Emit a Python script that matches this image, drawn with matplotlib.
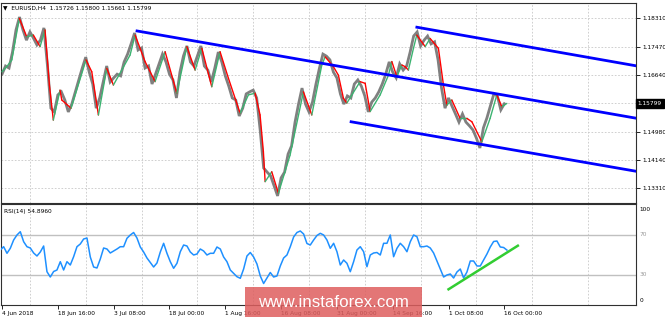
import matplotlib
matplotlib.use('Agg')
import matplotlib.pyplot as plt
import matplotlib.transforms as mtransforms
from matplotlib.patches import Rectangle
import numpy as np

# EURUSD H4 closes, one value every 4 bars
close = [1.1667, 1.1691, 1.1685, 1.1732, 1.1797, 1.1835, 1.1797, 1.1767, 1.1791, 1.1773,
         1.1753, 1.1767, 1.1803, 1.1694, 1.1567, 1.1556, 1.1606, 1.1615, 1.1591, 1.1556,
         1.1579, 1.1615, 1.1650, 1.1685, 1.1717, 1.1673, 1.1638, 1.1567, 1.1597, 1.1644,
         1.1691, 1.1644, 1.1656, 1.1667, 1.1662, 1.1703, 1.1726, 1.1756, 1.1788, 1.1738,
         1.1744, 1.1685, 1.1691, 1.1638, 1.1667, 1.1697, 1.1726, 1.1703, 1.1667, 1.1650,
         1.1597, 1.1673, 1.1720, 1.1750, 1.1703, 1.1691, 1.1720, 1.1750, 1.1691, 1.1679,
         1.1644, 1.1685, 1.1732, 1.1703, 1.1662, 1.1632, 1.1597, 1.1591, 1.1544, 1.1567,
         1.1609, 1.1615, 1.1620, 1.1597, 1.1503, 1.1391, 1.1379, 1.1368, 1.1338, 1.1309,
         1.1362, 1.1379, 1.1432, 1.1456, 1.1526, 1.1579, 1.1626, 1.1579, 1.1556, 1.1585,
         1.1638, 1.1685, 1.1726, 1.1720, 1.1709, 1.1673, 1.1656, 1.1609, 1.1579, 1.1603,
         1.1597, 1.1638, 1.1650, 1.1632, 1.1603, 1.1556, 1.1585, 1.1597, 1.1615, 1.1638,
         1.1667, 1.1703, 1.1673, 1.1656, 1.1697, 1.1679, 1.1691, 1.1732, 1.1779, 1.1791,
         1.1750, 1.1767, 1.1779, 1.1756, 1.1762, 1.1709, 1.1626, 1.1567, 1.1597, 1.1573,
         1.1550, 1.1526, 1.1550, 1.1526, 1.1515, 1.1503, 1.1479, 1.1450, 1.1509, 1.1538,
         1.1573, 1.1609, 1.1603, 1.1562, 1.1580]
bars_per_sample = 4

# slope-coloured moving average, turning points
ma_bars = [0, 5.4, 11.2, 14.9, 19.8, 28.3, 35.9, 43.6, 49.3, 54.3, 58.8, 66.5, 68.5, 79.1,
           96.3, 102.9, 110.5, 120.1, 127.7, 146.8, 152.6, 164.0, 175.5, 187.0, 200.4,
           211.9, 221.4, 229.1, 240.5, 250.0, 259.6, 273.0, 282.5, 290.2, 295.9, 299.7,
           301.7, 309.3, 316.9, 330.3, 345.6, 355.2, 366.7, 370.5, 380.0, 385.7, 391.5,
           395.4, 410.6, 416.4, 422.1, 433.6, 443.1, 447.0, 452.7, 458.5, 462.2, 466.0,
           471.8, 475.6, 485.2, 490.9, 500.4, 506.2, 510.1, 515.8, 525.3, 533.0, 538.8,
           550.2, 559.7, 567.4, 573.2, 578.9]
ma_vals = [1.1674, 1.1689, 1.1709, 1.1762, 1.1831, 1.1777, 1.1782, 1.1748, 1.1797, 1.1635,
           1.1532, 1.1620, 1.1591, 1.1567, 1.1709, 1.1674, 1.1547, 1.1684, 1.1635, 1.1723,
           1.1782, 1.1704, 1.1645, 1.1733, 1.1611, 1.1748, 1.1679, 1.1743, 1.1630, 1.1733,
           1.1655, 1.1552, 1.1606, 1.1611, 1.1547, 1.1439, 1.1351, 1.1380, 1.1317, 1.1429,
           1.1615, 1.1547, 1.1694, 1.1718, 1.1689, 1.1664, 1.1596, 1.1582, 1.1645, 1.1640,
           1.1557, 1.1606, 1.1664, 1.1704, 1.1660, 1.1694, 1.1689, 1.1679, 1.1743, 1.1782,
           1.1748, 1.1772, 1.1743, 1.1635, 1.1576, 1.1591, 1.1537, 1.1537, 1.1527, 1.1468,
           1.1537, 1.1606, 1.1571, 1.1581]

# channel lines (start bar, end bar), (start price, end price)
chan_mid_x, chan_mid_y = [154.8, 726], [1.1794, 1.1538]
chan_top_x, chan_top_y = [475.7, 726], [1.1805, 1.1692]
chan_low_x, chan_low_y = [400.3, 726], [1.1527, 1.1382]

# RSI(14), evenly spaced readings over the whole range
rsi = [55, 58.3, 51.7, 56.7, 65, 70, 73.3, 63.3, 58.3, 57, 52, 49, 53, 59, 33.3, 28, 33.5,
       35, 43.3, 35, 43.3, 40, 48.3, 58.3, 61, 66, 67, 48, 38, 37, 46, 57, 56, 52, 54, 56,
       58.3, 58.3, 66.7, 70, 72.5, 67, 58, 53, 47, 42.5, 38, 42, 53, 61.7, 51.7, 43.3, 36.7,
       41.7, 53.3, 60, 59, 53, 50, 51, 56, 54, 50, 51.7, 51.7, 58, 56, 48, 43.3, 35, 31.7,
       28.3, 26.7, 36, 49, 52.5, 48, 41, 29, 21.5, 27, 32.5, 28, 29, 39, 47, 50, 58.3, 68,
       72.5, 74, 71, 61.5, 60, 65, 69.5, 71.7, 70, 65, 56.7,
       61.7, 53.3, 40, 45, 41.7, 33.3, 43.3, 55, 58.3, 53.3, 38.3, 50, 52, 52.5, 50, 61.7,
       61.7, 70, 48.3, 56.7, 61.7, 58.3, 53.3, 63.3, 70, 68.3, 58.3, 58.3, 59, 57, 52, 44,
       36, 28, 30, 31, 27, 33, 36, 27, 33, 44, 44, 39, 39, 45, 51, 58, 63.5, 64, 58, 57.5,
       54.9]
rsi_first_bar, rsi_last_bar = -2, 579
rsi_trend_x, rsi_trend_y = [512, 591.5], [15.7, 59.3]
rsi_levels = [30, 70]

date_labels = ['4 Jun 2018', '18 Jun 16:00', '3 Jul 08:00', '18 Jul 00:00', '1 Aug 16:00',
               '16 Aug 08:00', '31 Aug 00:00', '14 Sep 16:00', '1 Oct 08:00', '16 Oct 00:00']
date_bars = [0, 64, 128, 192, 256, 320, 384, 448, 512, 576]
grid_bars = [32, 96, 160, 224, 288, 352, 416, 480, 544, 608, 672]
price_ticks = [1.18310, 1.17470, 1.16640, 1.15810, 1.14980, 1.14140, 1.13310]
last_price = 1.15799
header = 'EURUSD,H4  1.15726 1.15800 1.15661 1.15799'
rsi_title = 'RSI(14) 54.8960'

W, H = 665, 317
FS = 4.2
GRID = dict(color='#c8c8c8', lw=0.6, ls=(0, (2, 2)))


def px_box(x0, y0, x1, y1):
    return [x0 / W, 1 - y1 / H, (x1 - x0) / W, (y1 - y0) / H]


fig = plt.figure(figsize=(W / 100, H / 100), dpi=100)
fig.patch.set_facecolor('white')
ax = fig.add_axes(px_box(1, 3, 636, 203))
ax_r = fig.add_axes(px_box(1, 204, 636, 305))

for a in (ax, ax_r):
    a.set_xlim(-1.2, 727)
    for s in a.spines.values():
        s.set_color('#303030')
        s.set_linewidth(0.8)
    for gx in grid_bars:
        a.axvline(gx, zorder=0, **GRID)

# price panel
ax.set_ylim(1.12882, 1.18762)
ax.yaxis.tick_right()
ax.set_yticks(price_ticks)
# the 1.15810 label sits under the last-price box
ax.set_yticklabels(['' if abs(p - last_price) < 0.0003 else '%.5f' % p for p in price_ticks])
ax.tick_params(axis='y', length=3, width=0.6, labelsize=FS, pad=1.5, colors='black')
ax.tick_params(axis='x', bottom=False, labelbottom=False)
ax.yaxis.grid(True, zorder=0, **GRID)

cx = np.arange(len(close)) * bars_per_sample
ax.plot(cx, close, color='#808080', lw=2.0, zorder=2, solid_joinstyle='miter')

for i in range(len(ma_bars) - 1):
    up = ma_vals[i + 1] >= ma_vals[i]
    ax.plot(ma_bars[i:i + 2], ma_vals[i:i + 2], color='#3cb371' if up else '#ff0000',
            lw=1.0, zorder=3, solid_capstyle='round')

for xs, ys in ((chan_mid_x, chan_mid_y), (chan_top_x, chan_top_y), (chan_low_x, chan_low_y)):
    ax.plot(xs, ys, color='#0000ff', lw=2.0, zorder=4, clip_on=True)

trans = mtransforms.blended_transform_factory(ax.transAxes, ax.transData)
ax.text(1.003, last_price, '1.15799', transform=trans, fontsize=FS, color='white',
        va='center', ha='left', zorder=10, clip_on=False,
        bbox=dict(boxstyle='square,pad=0.35', fc='black', ec='black'))

fig.text(3 / W, 1 - 8 / H, '\u25bc  ' + header, fontsize=FS, va='center', ha='left')

# RSI panel
ax_r.set_ylim(0, 101)
rx = np.linspace(rsi_first_bar, rsi_last_bar, len(rsi))
for lv in rsi_levels:
    ax_r.axhline(lv, color='#c0c0c0', lw=1.0, zorder=1)
ax_r.plot(rx, rsi, color='#1e90ff', lw=1.1, zorder=3)
ax_r.plot(rsi_trend_x, rsi_trend_y, color='#32cd32', lw=1.8, zorder=4)

ax_r.yaxis.tick_right()
ax_r.set_yticks([])
rtrans = mtransforms.blended_transform_factory(ax_r.transAxes, ax_r.transData)
for val, ypos, col in (('100', 95.7, 'black'), ('70', 70, '#9a9a9a'),
                       ('30', 30, '#9a9a9a'), ('0', 4.3, 'black')):
    ax_r.text(1.006, ypos, val, transform=rtrans, fontsize=FS, color=col,
              va='center', ha='left', clip_on=False)

ax_r.set_xticks(date_bars)
ax_r.set_xticklabels(date_labels)
for lbl in ax_r.get_xticklabels():
    lbl.set_ha('left')
ax_r.tick_params(axis='x', length=3, width=0.6, labelsize=FS, pad=1.5)
ax_r.text(0.004, 0.93, rsi_title, transform=ax_r.transAxes, fontsize=FS,
          va='center', ha='left')

# watermark
fig.patches.append(Rectangle((245 / W, 0), 177 / W, 30.5 / H, transform=fig.transFigure,
                             facecolor='#de5e5e', alpha=0.85, edgecolor='none', zorder=20))
fig.text(333 / W, 1 - 307 / H, 'www.instaforex.com', fontsize=12.2, color='white',
         family='Liberation Sans', ha='center', va='baseline', zorder=21)

fig.savefig('out.png', dpi=100)
